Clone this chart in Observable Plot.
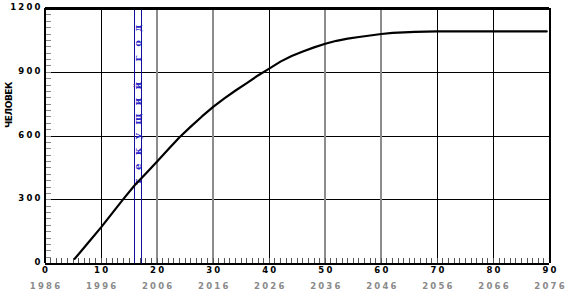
<!DOCTYPE html>
<html><head><meta charset="utf-8">
<script src="https://cdn.jsdelivr.net/npm/d3@7"></script>
<script src="https://cdn.jsdelivr.net/npm/@observablehq/plot@0.6"></script>
<style>
body{margin:0;background:#fff}
</style></head><body><div id="chart"></div>
<script>
// years since 1986 (x) and number of people (y)
const years  = [5.3, 8, 10, 12, 14, 16, 18, 20, 22, 24, 26, 28, 30, 32, 34, 36, 38, 40, 42, 44, 46, 48, 50, 52, 54, 56, 58, 60, 62, 64, 66, 68, 70, 80, 89.5];
const people = [22, 107, 170, 237, 304, 368, 424, 480, 538, 594, 644, 692, 737, 777, 814, 849, 885, 917, 950, 976, 998, 1017, 1034, 1048, 1058, 1066, 1073, 1080, 1085, 1088, 1090, 1091, 1092, 1092, 1092];
const xTicks = [0, 10, 20, 30, 40, 50, 60, 70, 80, 90];
const yearLabels = ["1986", "1996", "2006", "2016", "2026", "2036", "2046", "2056", "2066", "2076"];
const yTicks = [0, 300, 600, 900, 1200];
const blackGridX = [10, 40, 70, 80];
const grayGridX = [20, 30, 50, 60];
const gridY = [300, 600, 900];
const currentYear = [16, 17.25];
const yLabel = "ЧЕЛОВЕК";
const markerText = "текущий год";
const xMinor = d3.range(0, 91, 1);
const yMinor = d3.range(0, 1201, 30);

const font = "DejaVu Sans";
const crisp = "crispEdges";
const chart = Plot.plot({
  width: 569, height: 296,
  marginLeft: 44.5, marginRight: 20, marginTop: 8, marginBottom: 33,
  style: {background: "white", fontFamily: font},
  x: {domain: [0, 90]},
  y: {domain: [0, 1200]},
  marks: [
    Plot.ruleY(gridY, {stroke: "black", strokeWidth: 1, shapeRendering: crisp}),
    Plot.ruleX(grayGridX, {stroke: "#8c8c8c", strokeWidth: 2, shapeRendering: crisp}),
    Plot.ruleX(blackGridX, {stroke: "black", strokeWidth: 1, shapeRendering: crisp}),
    Plot.axisX(xMinor, {tickSize: -5, stroke: "#555", fill: "none", label: null, shapeRendering: crisp}),
    Plot.axisY(yMinor, {tickSize: -6, stroke: "#888", fill: "none", label: null, shapeRendering: crisp}),
    Plot.ruleX(currentYear, {stroke: "#10109a", strokeWidth: 1, shapeRendering: crisp}),
    Plot.text([markerText], {x: d3.mean(currentYear), frameAnchor: "middle", textAnchor: "middle", dy: -35.5, rotate: -90,
      fill: "#2424c8", fontSize: 10, fontWeight: "bold", fontFamily: "DejaVu Serif"}),
    Plot.line(years.map((x, i) => ({x, y: people[i]})), {x: "x", y: "y", stroke: "black", strokeWidth: 2.2}),
    Plot.ruleY([1200], {stroke: "black", strokeWidth: 3, shapeRendering: crisp}),
    Plot.ruleY([0], {stroke: "black", strokeWidth: 2, shapeRendering: crisp}),
    Plot.ruleX([0, 90], {stroke: "black", strokeWidth: 2, shapeRendering: crisp}),
    Plot.text(xTicks, {x: d => d, frameAnchor: "bottom", dx: 1.1, dy: 9, text: d => String(d),
      fontSize: 8.5, fontWeight: "bold", fontFamily: font, fill: "black"}),
    Plot.text(xTicks, {x: d => d, frameAnchor: "bottom", dx: 1.1, dy: 25, text: (d, i) => yearLabels[i],
      fontSize: 8.5, fontWeight: "bold", fontFamily: font, fill: "#8a8a8a"}),
    Plot.text(yTicks, {y: d => d, frameAnchor: "left", dx: -2.3, dy: -1, textAnchor: "end", text: d => String(d),
      fontSize: 8.5, fontWeight: "bold", fontFamily: font, fill: "black"}),
    Plot.text([yLabel], {frameAnchor: "left", textAnchor: "middle", dx: -36, dy: -31, rotate: -90,
      fontSize: 9, fontWeight: "bold", fontFamily: font, fill: "black"})
  ]
});
document.getElementById("chart").appendChild(chart);
d3.select(chart).selectAll("text").each(function() {
  const t = this.textContent;
  if (t === markerText) this.style.letterSpacing = "8.5px";
  else if (t === yLabel) this.style.letterSpacing = "-0.4px";
  else if (/^\d+$/.test(t)) this.style.letterSpacing = "2.2px";
});
</script></body></html>
